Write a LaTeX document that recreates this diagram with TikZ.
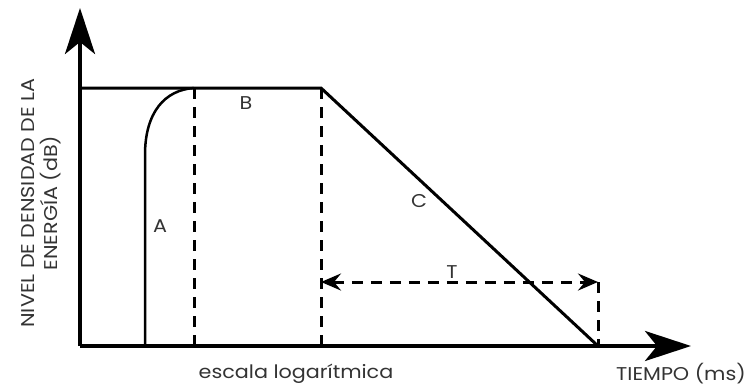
\documentclass[tikz,border=0pt]{standalone}
\usepackage{fontspec}
\setmainfont{Poppins}[FakeStretch=1.12]
\usetikzlibrary{arrows.meta}
\begin{document}
\begin{tikzpicture}[x=1pt,y=-1pt,
  axis/.style={line width=4pt,-{Stealth[length=46pt,width=30pt,inset=12pt]}},
  solidline/.style={line width=3pt},
  dashline/.style={line width=3pt,dash pattern=on 11pt off 8pt},
  tarrow/.style={line width=3pt,dash pattern=on 11pt off 8pt,{Stealth[length=20pt,width=17pt,inset=7pt]}-{Stealth[length=20pt,width=17pt,inset=7pt]}},
  lbl/.style={font=\fontsize{18.5}{23}\selectfont,text=black!80,inner sep=0pt}]
\useasboundingbox (0,0) rectangle (745,389);
\coordinate (O) at (80,346);
\coordinate (Ytop) at (80,8);
\coordinate (Xend) at (691,346);
\coordinate (TL) at (80,88);
\coordinate (P1) at (194,88);
\coordinate (P2) at (321,88);
\coordinate (P3) at (598,346);
\coordinate (Q1) at (194,346);
\coordinate (Q2) at (321,346);
\coordinate (R2) at (321,282);
\coordinate (R3) at (598,282);
\coordinate (A0) at (145,346);
\coordinate (A1) at (145,155);
\draw[axis] (O) -- (Ytop);
\draw[axis] (O) -- (Xend);
\draw[solidline,line join=miter] (TL) -- (P2) -- (P3);
\draw[line width=2.5pt] (A0) -- (A1) .. controls (145,112) and (165,90) .. (P1);
\draw[dashline] (P1) -- (Q1);
\draw[dashline] (P2) -- (Q2);
\draw[dashline] (R3) -- (P3);
\draw[tarrow] (R2) -- (R3);
\node[lbl] (la) at (160,226) {A};
\node[lbl] (lb) at (246,103) {B};
\node[lbl] (lc) at (419,201) {C};
\node[lbl] (lt) at (452,272) {T};
\node[lbl,rotate=90,align=center] (ly) at (41,203) {NIVEL DE DENSIDAD DE LA\\ENERGÍA (dB)};
\node[lbl] (lx) at (296,374) {escala logarítmica};
\node[lbl] (lx2) at (681,374) {TIEMPO (ms)};
\end{tikzpicture}
\end{document}
